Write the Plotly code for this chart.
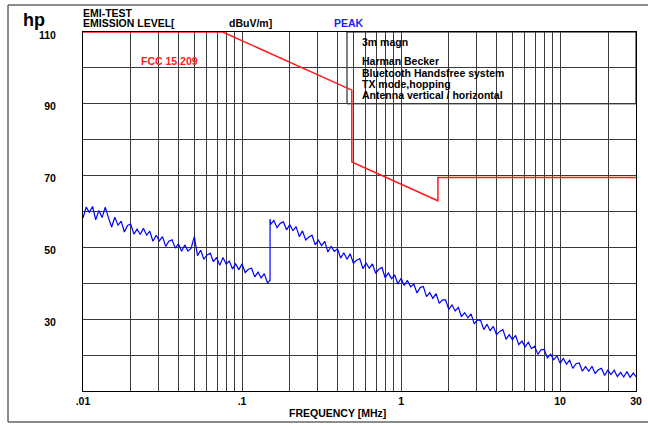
import plotly.graph_objects as go

# ---------------- data ----------------
# FCC 15.209 limit line, frequency in MHz, level in dBuV/m
limit_freq = [0.01, 0.0756, 0.49, 0.49, 1.705, 1.705, 30]
limit_level = [110, 110, 93.8, 73.8, 63.0, 69.5, 69.5]

# Peak scan, band A (10 kHz - 150 kHz)
scan_a_freq = [0.01, 0.01047, 0.01096, 0.01148, 0.01202, 0.01259, 0.01318, 0.0138, 0.01445, 0.01514,
               0.01585, 0.0166, 0.01738, 0.0182, 0.01905, 0.01995, 0.02089, 0.02188, 0.02291, 0.02399,
               0.02512, 0.0263, 0.02754, 0.02884, 0.0302, 0.03162, 0.03311, 0.03467, 0.03631, 0.03802,
               0.03981, 0.04169, 0.04365, 0.04571, 0.04786, 0.05012, 0.05248, 0.05495, 0.05754, 0.06026,
               0.0631, 0.06607, 0.06918, 0.07244, 0.07586, 0.07943, 0.08318, 0.0871, 0.0912, 0.0955,
               0.1, 0.1047, 0.1096, 0.1148, 0.1202, 0.1259, 0.1318, 0.138, 0.1445, 0.15]
scan_a_level = [58.2, 61.2, 59.8, 61.4, 57.7, 60.3, 58.3, 61.2, 58.3, 55.7,
                58.4, 56.2, 57.3, 54.3, 56.1, 56.5, 53.7, 55.1, 53.6, 55.3,
                53.4, 54.5, 51.7, 53.4, 51.8, 53.0, 50.3, 51.7, 52.1, 49.8,
                51.0, 48.9, 50.7, 49.0, 49.8, 53.0, 47.7, 49.2, 46.7, 47.9,
                48.4, 46.0, 47.2, 45.0, 47.2, 45.4, 46.2, 44.0, 45.4, 43.8,
                45.4, 43.0, 43.9, 44.2, 41.8, 43.1, 41.5, 42.7, 40.1, 40.8]

# Peak scan, band B (150 kHz - 30 MHz)
scan_b_freq = [0.15, 0.1514, 0.1585, 0.166, 0.1738, 0.182, 0.1905, 0.1995, 0.2089, 0.2188,
               0.2291, 0.2399, 0.2512, 0.263, 0.2754, 0.2884, 0.302, 0.3162, 0.3311, 0.3467,
               0.3631, 0.3802, 0.3981, 0.4169, 0.4365, 0.4571, 0.4786, 0.5012, 0.5248, 0.5495,
               0.5754, 0.6026, 0.631, 0.6607, 0.6918, 0.7244, 0.7586, 0.7943, 0.8318, 0.871,
               0.912, 0.955,
               1.0, 1.047, 1.096, 1.148, 1.202, 1.259, 1.318, 1.38, 1.445, 1.514,
               1.585, 1.66, 1.738, 1.82, 1.905, 1.995, 2.089, 2.188, 2.291, 2.399,
               2.512, 2.63, 2.754, 2.884, 3.02, 3.162, 3.311, 3.467, 3.631, 3.802,
               3.981, 4.169, 4.365, 4.571, 4.786, 5.012, 5.248, 5.495, 5.754, 6.026,
               6.31, 6.607, 6.918, 7.244, 7.586, 7.943, 8.318, 8.71, 9.12, 9.55,
               10.0, 10.47, 10.96, 11.48, 12.02, 12.59, 13.18, 13.8, 14.45, 15.14,
               15.85, 16.6, 17.38, 18.2, 19.05, 19.95, 20.89, 21.88, 22.91, 23.99,
               25.12, 26.3, 27.54, 28.84, 30.0]
scan_b_level = [57.9,
                56.4, 57.5, 55.5, 56.7, 57.1, 54.9, 56.3, 54.7, 55.8, 53.0,
                54.6, 52.1, 52.9, 53.4, 50.7, 52.0, 50.5, 51.7, 48.7, 50.3,
                48.9, 49.6, 47.0, 48.5, 46.7, 48.2, 45.6, 46.4, 46.9, 44.1,
                45.6, 44.2, 45.4, 42.8, 43.9, 44.4, 41.5, 42.9, 41.3, 42.3,
                39.8,
                41.4, 39.4, 40.8, 39.0, 39.8, 37.3, 38.8, 39.1, 36.3, 37.4,
                35.8, 37.1, 34.4, 35.4, 35.4, 32.7, 34.0, 32.3, 33.3, 30.7,
                31.8, 30.4, 31.5, 28.7, 29.8, 29.7, 27.1, 28.6, 26.8, 28.0,
                25.7, 26.6, 27.1, 24.4, 25.7, 24.3, 25.5, 22.9, 23.9, 22.3,
                23.6, 21.8, 22.5, 20.2, 21.5, 21.6, 19.2, 20.2, 18.7, 19.8,
                17.7, 19.1, 17.5, 18.6, 16.3, 17.6, 17.8, 15.5, 16.8, 15.5,
                16.9, 14.9, 15.9, 16.3, 14.3, 15.8, 14.6, 15.8, 14.0, 15.2,
                13.9, 15.4, 13.8, 15.0, 14.0]

x_tick_vals = [0.01, 0.1, 1, 10, 30]
x_tick_text = [".01", ".1", "1", "10", "30"]
x_grid_vals = [0.02, 0.03, 0.04, 0.05, 0.06, 0.07, 0.08, 0.09,
               0.2, 0.3, 0.4, 0.5, 0.6, 0.7, 0.8, 0.9,
               2, 3, 4, 5, 6, 7, 8, 9, 20]
y_tick_vals = [30, 50, 70, 90, 110]
y_tick_text = ["30", "50", "70", "90", "110"]
y_grid_vals = [20, 40, 60, 80, 100]

info_lines = ["3m magn", "Harman Becker", "Bluetooth Handsfree system",
              "TX mode,hopping", "Antenna vertical / horizontal"]

# ---------------- figure ----------------
FONT = "Liberation Sans, Arial, Helvetica, sans-serif"
GRID = "#3a3a3a"

fig = go.Figure()
fig.add_trace(go.Scatter(x=limit_freq, y=limit_level, mode="lines",
                         line=dict(color="#ff1a1a", width=1.5), hoverinfo="skip",
                         showlegend=False))
fig.add_trace(go.Scatter(x=scan_a_freq + scan_b_freq, y=scan_a_level + scan_b_level,
                         mode="lines", line=dict(color="#0000ff", width=1.2),
                         showlegend=False))

fig.update_layout(
    width=648, height=425,
    margin=dict(l=83, r=12, t=32, b=34),
    paper_bgcolor="white", plot_bgcolor="white",
    font=dict(family=FONT, size=10.5, color="black", weight="bold"),
    showlegend=False,
)

fig.update_xaxes(
    type="log", range=[-2, 1.4771],
    tickmode="array", tickvals=x_tick_vals, ticktext=x_tick_text,
    ticks="", showgrid=True, gridcolor=GRID, gridwidth=1,
    minor=dict(tickmode="array", tickvals=x_grid_vals, showgrid=True,
               gridcolor=GRID, gridwidth=1, ticks=""),
    showline=True, mirror=True, linecolor="black", linewidth=1,
    zeroline=False, layer="below traces", automargin=False,
    tickfont=dict(family=FONT, size=10.5, color="black", weight="bold"),
)
fig.update_yaxes(
    range=[10, 110],
    tickmode="array", tickvals=y_tick_vals, ticktext=y_tick_text,
    ticks="", showgrid=True, gridcolor=GRID, gridwidth=1,
    minor=dict(tickmode="array", tickvals=y_grid_vals, showgrid=True,
               gridcolor=GRID, gridwidth=1, ticks=""),
    showline=True, mirror=True, linecolor="black", linewidth=1,
    zeroline=False, layer="below traces", automargin=False,
    ticklabelstandoff=24, ticklabelshift=3,
    tickfont=dict(family=FONT, size=10.5, color="black", weight="bold"),
)

# white info box (covers the grid, below the traces)
fig.add_shape(type="rect", xref="paper", yref="paper", x0=0.4774, x1=1.0, y0=0.8, y1=1.0,
              line=dict(color="black", width=1), fillcolor="white", layer="between")

# outer frame (left, top, bottom; right side lies outside the picture)
FX0, FX1, FY0, FY1 = -0.1356, 1.0217, -0.0864, 1.0752
for x0, y0, x1, y1 in [(FX0, FY0, FX0, FY1), (FX0, FY1, FX1, FY1), (FX0, FY0, FX1, FY0)]:
    fig.add_shape(type="line", xref="paper", yref="paper", x0=x0, y0=y0, x1=x1, y1=y1,
                  line=dict(color="#666666", width=1.5), layer="above")


def txt(text, x, y, size=10.5, color="black", xanchor="left"):
    fig.add_annotation(text=text, xref="paper", yref="paper", x=x, y=y,
                       xanchor=xanchor, yanchor="middle", showarrow=False,
                       font=dict(family=FONT, size=size, color=color, weight="bold"))


txt("hp", -0.112, 1.0334, size=18)
txt("EMI-TEST", -0.004, 1.0530)
txt("EMISSION LEVEL[", -0.004, 1.0250)
txt("dBuV/m]", 0.2600, 1.0250)
txt("PEAK", 0.4500, 1.0240, color="#2020ff")
txt("FCC 15.209", 0.1010, 0.9184, color="#ff1a1a")
txt("FREQUENCY [MHz]", 0.4611, -0.0613, xanchor="center")

info_y = [0.9708, 0.9184, 0.8870, 0.8555, 0.8240]
for line, yy in zip(info_lines, info_y):
    txt(line, 0.5005, yy)

fig.write_html(
    "out.html",
    config={"displayModeBar": False},
    post_script=("document.body.style.margin='0';"
                 "document.body.style.overflow='hidden';"
                 "document.documentElement.style.overflow='hidden';"),
)
